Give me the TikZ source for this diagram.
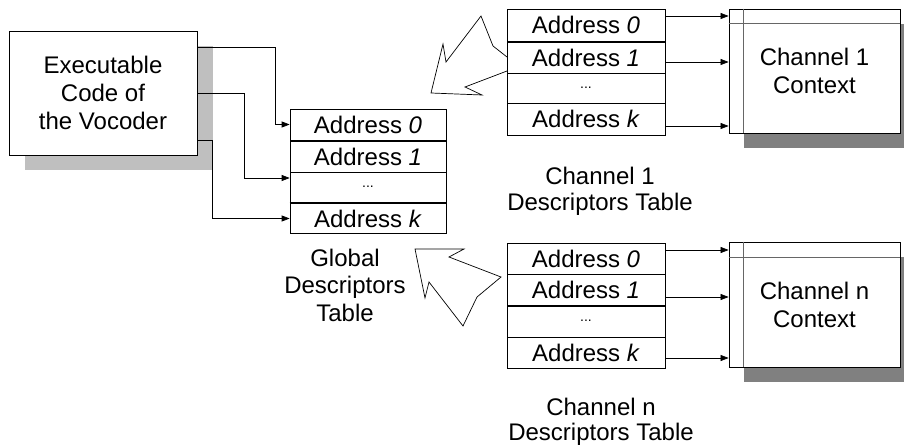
\documentclass[tikz,border=0pt]{standalone}
\usepackage{fontspec}
\setmainfont{Liberation Sans}
\usetikzlibrary{arrows.meta,shadows}
\begin{document}
\begin{tikzpicture}[x=1pt,y=-1pt,
  txt/.style={font=\fontsize{24}{27.5}\selectfont, inner sep=0pt, align=center},
  cell/.style={draw, line width=0.7pt, fill=white, minimum width=156pt, minimum height=31pt, inner sep=0pt, font=\fontsize{24}{27}\selectfont},
  dots/.style={font=\fontsize{14}{16}\selectfont},
  conn/.style={line width=0.7pt, -{Triangle[length=8pt,width=6pt]}},
  codebox/.style={draw, line width=0.8pt, fill=white, minimum width=188pt, minimum height=124pt, inner sep=0pt, align=center,
    font=\fontsize{24}{28}\selectfont,
    drop shadow={shadow xshift=16pt, shadow yshift=-15pt, fill=black!25, opacity=1, draw=none}},
  ctxbox/.style={draw, line width=0.8pt, fill=white, minimum width=171pt, minimum height=124pt, inner sep=0pt, align=center,
    font=\fontsize{24}{28}\selectfont,
    drop shadow={shadow xshift=15pt, shadow yshift=-15pt, fill=black!50, opacity=1, draw=none}},
  inner/.style={line width=0.7pt, draw=black!60},
  zig/.style={line width=0.7pt, line join=miter}
]
\useasboundingbox (0,0) rectangle (904,446);

% Executable code box
\node[codebox] (code) at (103,93) {Executable\\Code of\\the Vocoder};

% Global descriptors table
\node[cell] (g0) at (368,124.5) {Address \textit{0}};
\node[cell] (g1) at (368,156.5) {Address \textit{1}};
\node[cell] (g2) at (368,187.5) {};
\node[dots] (g2d) at (368,187) {...};
\node[cell, minimum height=30pt] (g3) at (368,218.5) {Address \textit{k}};
\draw[line width=1.4pt] (g3.north west) -- (g3.north east);
\node[txt] (glabel) at (345,285) {Global\\Descriptors\\Table};

% Connectors from code
\path ([yshift=46pt]code.east) coordinate (s1);
\path ([yshift=-47pt]code.east) coordinate (s3);
\draw[conn] (s1) -- ++(78,0) |- (g0.west);
\draw[conn] (code.east) -- ++(47,0) |- ([yshift=9.5pt]g2.west);
\draw[conn] (s3) -- ++(15,0) |- (g3.west);

% Channel 1 table
\node[cell, minimum width=158pt, minimum height=32pt] (a0) at (586,25) {Address \textit{0}};
\node[cell, minimum width=158pt, minimum height=31pt] (a1) at (586,57.5) {Address \textit{1}};
\node[cell, minimum width=158pt, minimum height=30pt] (a2) at (586,88) {};
\node[dots] (a2d) at (586,87.5) {...};
\node[cell, minimum width=158pt, minimum height=32pt] (a3) at (586,119) {Address \textit{k}};
\node[txt, font=\fontsize{24}{26}\selectfont] (alabel) at (600,191) {Channel 1\\Descriptors Table};

% Channel 1 context
\node[ctxbox] (ctx1) at (814.5,71) {Channel 1\\Context};
\draw[inner] ([xshift=15pt]ctx1.north west) -- ([xshift=15pt]ctx1.south west);
\draw[inner] ([yshift=-15pt]ctx1.north west) -- ([yshift=-15pt]ctx1.north east);

\path ([yshift=9pt]a0.east) coordinate (p0);
\path ([yshift=-4.5pt]a1.east) coordinate (p1);
\path ([yshift=-7pt]a3.east) coordinate (p3);
\draw[conn] (p0) -- (p0 -| ctx1.west);
\draw[conn] (p1) -- (p1 -| ctx1.west);
\draw[conn] (p3) -- (p3 -| ctx1.west);

% Channel n table
\node[cell, minimum width=158pt, minimum height=31pt] (b0) at (586,258.5) {Address \textit{0}};
\node[cell, minimum width=158pt, minimum height=31pt] (b1) at (586,290) {Address \textit{1}};
\node[cell, minimum width=158pt, minimum height=31pt] (b2) at (586,321.5) {};
\node[dots] (b2d) at (586,321) {...};
\node[cell, minimum width=158pt, minimum height=31pt] (b3) at (586,352.5) {Address \textit{k}};
\node[txt, font=\fontsize{24}{25}\selectfont] (blabel) at (601,422) {Channel n\\Descriptors Table};

% Channel n context
\node[ctxbox, minimum height=125pt] (ctxn) at (814.5,304.5) {Channel n\\Context};
\draw[inner] ([xshift=15pt]ctxn.north west) -- ([xshift=15pt]ctxn.south west);
\draw[inner] ([yshift=-16pt]ctxn.north west) -- ([yshift=-16pt]ctxn.north east);

\path ([yshift=8.5pt]b0.east) coordinate (q0);
\path ([yshift=-7pt]b1.east) coordinate (q1);
\path ([yshift=-5.5pt]b3.east) coordinate (q3);
\draw[conn] (q0) -- (q0 -| ctxn.west);
\draw[conn] (q1) -- (q1 -| ctxn.west);
\draw[conn] (q3) -- (q3 -| ctxn.west);

% Zigzag block arrows
\draw[zig] (507,57) -- (493,46) -- (481,16) -- (446,62) -- (443,44) -- (431,93) -- (482,95) -- (465,87) -- (507,71);
\draw[zig] (501,277) -- (449,257) -- (464,249) -- (415,249) -- (425,298) -- (429,282) -- (463,326) -- (477,297) -- cycle;
\end{tikzpicture}
\end{document}
